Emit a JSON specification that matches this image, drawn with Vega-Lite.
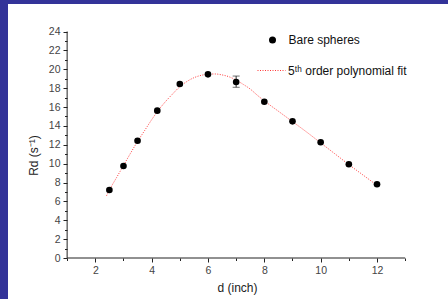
{
  "$schema": "https://vega.github.io/schema/vega-lite/v6.json",
  "width": 440,
  "height": 295,
  "autosize": {"type": "none"},
  "padding": {"left": 8, "top": 4, "right": 0, "bottom": 0},
  "background": "#333399",
  "config": {
    "view": {"fill": "#ffffff", "stroke": null},
    "font": "Liberation Sans",
    "axis": {
      "domain": false,
      "grid": false,
      "labelExpr": "datum.value % 2 === 0 ? datum.label : ''",
      "tickColor": "#222222",
      "labelFont": "Liberation Sans",
      "labelFontSize": 10.5,
      "labelColor": "#444444",
      "labelPadding": 3,
      "labelFlush": false,
      "labelOverlap": false,
      "titleFont": "Liberation Sans",
      "titleFontSize": 12,
      "titleFontWeight": "normal",
      "titleColor": "#222222",
      "titleAlign": "center",
      "titleBaseline": "middle"
    }
  },
  "datasets": {
    "points": [
      {"d": 2.5, "Rd": 7.2},
      {"d": 3.0, "Rd": 9.75},
      {"d": 3.5, "Rd": 12.43},
      {"d": 4.2, "Rd": 15.61},
      {"d": 5.0, "Rd": 18.44},
      {"d": 6.0, "Rd": 19.46},
      {"d": 7.0, "Rd": 18.65},
      {"d": 8.0, "Rd": 16.56},
      {"d": 9.0, "Rd": 14.48},
      {"d": 10.0, "Rd": 12.26},
      {"d": 11.0, "Rd": 9.93},
      {"d": 12.0, "Rd": 7.81}
    ],
    "errors": [
      {"d": 7.0, "lo": 18.09, "hi": 19.28}
    ],
    "fit": [
      {"d": 2.4, "Rd": 6.6},
      {"d": 2.5, "Rd": 7.2},
      {"d": 2.75, "Rd": 8.5},
      {"d": 3.0, "Rd": 9.8},
      {"d": 3.25, "Rd": 11.1},
      {"d": 3.5, "Rd": 12.35},
      {"d": 3.75, "Rd": 13.5},
      {"d": 4.0, "Rd": 14.65},
      {"d": 4.25, "Rd": 15.7},
      {"d": 4.5, "Rd": 16.6},
      {"d": 4.75, "Rd": 17.4},
      {"d": 5.0, "Rd": 18.15},
      {"d": 5.25, "Rd": 18.7},
      {"d": 5.5, "Rd": 19.1},
      {"d": 5.75, "Rd": 19.35},
      {"d": 6.0, "Rd": 19.47},
      {"d": 6.25, "Rd": 19.5},
      {"d": 6.5, "Rd": 19.4},
      {"d": 6.75, "Rd": 19.2},
      {"d": 7.0, "Rd": 18.85},
      {"d": 7.25, "Rd": 18.4},
      {"d": 7.5, "Rd": 17.9},
      {"d": 7.75, "Rd": 17.25},
      {"d": 8.0, "Rd": 16.65},
      {"d": 8.5, "Rd": 15.55},
      {"d": 9.0, "Rd": 14.45},
      {"d": 9.5, "Rd": 13.35},
      {"d": 10.0, "Rd": 12.2},
      {"d": 10.5, "Rd": 11.05},
      {"d": 11.0, "Rd": 9.9},
      {"d": 11.5, "Rd": 8.8},
      {"d": 12.0, "Rd": 7.7}
    ]
  },
  "layer": [
    {
      "data": {"values": [{}]},
      "mark": {"type": "rule", "color": "#222222", "strokeWidth": 1},
      "encoding": {
        "x": {"datum": 1, "type": "quantitative", "title": "d (inch)",
          "scale": {"domain": [-1.099, 14.52], "nice": false, "zero": false},
          "axis": {"orient": "bottom", "offset": -41, "values": [1, 2, 3, 4, 5, 6, 7, 8, 9, 10, 11, 12, 13], "tickSize": {"condition": {"test": "datum.value % 2 === 0", "value": 4}, "value": 2.5}, "titleX": 229, "titleY": 29}},
        "x2": {"datum": 13},
        "y": {"datum": 0, "type": "quantitative", "title": "Rd (s⁻¹)",
          "scale": {"domain": [-4.344, 26.914], "nice": false, "zero": false},
          "axis": {"orient": "left", "offset": -59, "values": [0, 1, 2, 3, 4, 5, 6, 7, 8, 9, 10, 11, 12, 13, 14, 15, 16, 17, 18, 19, 20, 21, 22, 23, 24], "tickSize": {"condition": {"test": "datum.value % 2 === 0", "value": 4}, "value": 2.5}, "titleAngle": -90, "titleX": -34, "titleY": 151}}
      }
    },
    {
      "data": {"values": [{}]},
      "mark": {"type": "rule", "color": "#222222", "strokeWidth": 1},
      "encoding": {
        "x": {"datum": 1, "type": "quantitative", "title": "d (inch)",
          "scale": {"domain": [-1.099, 14.52], "nice": false, "zero": false},
          "axis": {"orient": "bottom", "offset": -41, "values": [1, 2, 3, 4, 5, 6, 7, 8, 9, 10, 11, 12, 13], "tickSize": {"condition": {"test": "datum.value % 2 === 0", "value": 4}, "value": 2.5}, "titleX": 229, "titleY": 29}},
        "y": {"datum": 0, "type": "quantitative", "title": "Rd (s⁻¹)",
          "scale": {"domain": [-4.344, 26.914], "nice": false, "zero": false},
          "axis": {"orient": "left", "offset": -59, "values": [0, 1, 2, 3, 4, 5, 6, 7, 8, 9, 10, 11, 12, 13, 14, 15, 16, 17, 18, 19, 20, 21, 22, 23, 24], "tickSize": {"condition": {"test": "datum.value % 2 === 0", "value": 4}, "value": 2.5}, "titleAngle": -90, "titleX": -34, "titleY": 151}},
        "y2": {"datum": 24}
      }
    },
    {
      "data": {"name": "fit"},
      "mark": {"type": "line", "interpolate": "monotone", "strokeWidth": 1, "strokeDash": [1, 1.5], "opacity": 0.9},
      "encoding": {
        "x": {"field": "d", "type": "quantitative", "title": "d (inch)",
          "scale": {"domain": [-1.099, 14.52], "nice": false, "zero": false},
          "axis": {"orient": "bottom", "offset": -41, "values": [1, 2, 3, 4, 5, 6, 7, 8, 9, 10, 11, 12, 13], "tickSize": {"condition": {"test": "datum.value % 2 === 0", "value": 4}, "value": 2.5}, "titleX": 229, "titleY": 29}},
        "y": {"field": "Rd", "type": "quantitative", "title": "Rd (s⁻¹)",
          "scale": {"domain": [-4.344, 26.914], "nice": false, "zero": false},
          "axis": {"orient": "left", "offset": -59, "values": [0, 1, 2, 3, 4, 5, 6, 7, 8, 9, 10, 11, 12, 13, 14, 15, 16, 17, 18, 19, 20, 21, 22, 23, 24], "tickSize": {"condition": {"test": "datum.value % 2 === 0", "value": 4}, "value": 2.5}, "titleAngle": -90, "titleX": -34, "titleY": 151}},
        "stroke": {
          "datum": "5ᵗʰ order polynomial fit",
          "scale": {"range": ["#ff2222"]},
          "legend": {
            "title": null,
            "orient": "none",
            "legendX": 249,
            "legendY": 52,
            "padding": 0,
            "symbolType": "stroke",
            "symbolSize": 784,
            "symbolDash": [1, 1.5],
            "symbolStrokeWidth": 1,
            "labelOffset": 2,
            "labelFontSize": 12,
            "labelFont": "Liberation Sans",
            "labelColor": "#111111"
          }
        }
      }
    },
    {
      "data": {"name": "errors"},
      "mark": {"type": "errorbar", "ticks": {"size": 7}, "color": "#333333"},
      "encoding": {
        "x": {"field": "d", "type": "quantitative", "title": "d (inch)",
          "scale": {"domain": [-1.099, 14.52], "nice": false, "zero": false},
          "axis": {"orient": "bottom", "offset": -41, "values": [1, 2, 3, 4, 5, 6, 7, 8, 9, 10, 11, 12, 13], "tickSize": {"condition": {"test": "datum.value % 2 === 0", "value": 4}, "value": 2.5}, "titleX": 229, "titleY": 29}},
        "y": {"field": "lo", "type": "quantitative", "title": "Rd (s⁻¹)",
          "scale": {"domain": [-4.344, 26.914], "nice": false, "zero": false},
          "axis": {"orient": "left", "offset": -59, "values": [0, 1, 2, 3, 4, 5, 6, 7, 8, 9, 10, 11, 12, 13, 14, 15, 16, 17, 18, 19, 20, 21, 22, 23, 24], "tickSize": {"condition": {"test": "datum.value % 2 === 0", "value": 4}, "value": 2.5}, "titleAngle": -90, "titleX": -34, "titleY": 151}},
        "y2": {"field": "hi"}
      }
    },
    {
      "data": {"name": "points"},
      "mark": {"type": "circle", "size": 44, "opacity": 1},
      "encoding": {
        "x": {"field": "d", "type": "quantitative", "title": "d (inch)",
          "scale": {"domain": [-1.099, 14.52], "nice": false, "zero": false},
          "axis": {"orient": "bottom", "offset": -41, "values": [1, 2, 3, 4, 5, 6, 7, 8, 9, 10, 11, 12, 13], "tickSize": {"condition": {"test": "datum.value % 2 === 0", "value": 4}, "value": 2.5}, "titleX": 229, "titleY": 29}},
        "y": {"field": "Rd", "type": "quantitative", "title": "Rd (s⁻¹)",
          "scale": {"domain": [-4.344, 26.914], "nice": false, "zero": false},
          "axis": {"orient": "left", "offset": -59, "values": [0, 1, 2, 3, 4, 5, 6, 7, 8, 9, 10, 11, 12, 13, 14, 15, 16, 17, 18, 19, 20, 21, 22, 23, 24], "tickSize": {"condition": {"test": "datum.value % 2 === 0", "value": 4}, "value": 2.5}, "titleAngle": -90, "titleX": -34, "titleY": 151}},
        "fill": {
          "datum": "Bare spheres",
          "scale": {"range": ["#000000"]},
          "legend": {
            "title": null,
            "orient": "none",
            "legendX": 258.5,
            "legendY": 30,
            "padding": 0,
            "symbolType": "circle",
            "symbolSize": 49,
            "symbolStrokeWidth": 0,
            "symbolOpacity": 1,
            "labelOffset": 10,
            "labelFontSize": 12,
            "labelFont": "Liberation Sans",
            "labelColor": "#111111"
          }
        }
      }
    }
  ]
}
